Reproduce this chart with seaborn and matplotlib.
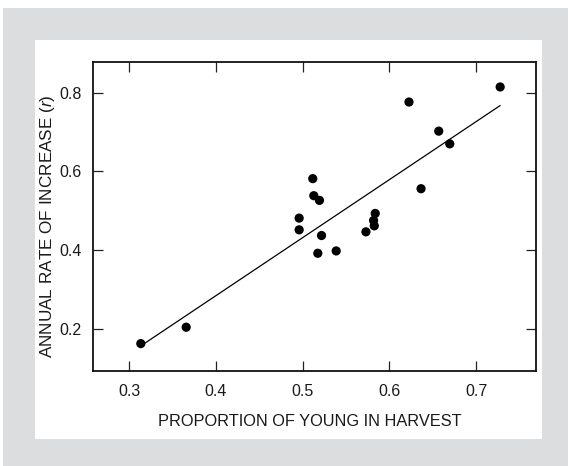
import matplotlib
matplotlib.use("Agg")
import matplotlib.pyplot as plt
from matplotlib.patches import Rectangle
import seaborn as sns
import pandas as pd

# Data
proportion_young = [0.3135, 0.3658, 0.4960, 0.4960, 0.5117, 0.5129, 0.5194, 0.5218,
                    0.5175, 0.5387, 0.5730, 0.5837, 0.5818, 0.5826, 0.6226, 0.6365,
                    0.6569, 0.6696, 0.7277]
annual_rate = [0.1617, 0.2034, 0.4809, 0.4511, 0.5813, 0.5379, 0.5260, 0.4366,
               0.3915, 0.3974, 0.4460, 0.4928, 0.4749, 0.4613, 0.7762, 0.5557,
               0.7021, 0.6698, 0.8145]
x_ticks = [0.3, 0.4, 0.5, 0.6, 0.7]
y_ticks = [0.2, 0.4, 0.6, 0.8]
x_label = "PROPORTION OF YOUNG IN HARVEST"
y_label = "ANNUAL RATE OF INCREASE ($\\it{r}$)"

df = pd.DataFrame({"x": proportion_young, "y": annual_rate})

sns.set_theme(style="ticks")
plt.rcParams["font.family"] = ["Liberation Sans", "DejaVu Sans"]
plt.rcParams["mathtext.fontset"] = "custom"
plt.rcParams["mathtext.it"] = "Liberation Sans:italic"
plt.rcParams["mathtext.rm"] = "Liberation Sans"

fig = plt.figure(figsize=(5.68, 4.66), dpi=100, facecolor="white")
W, H = 568, 466

def rect_px(x0, y0, x1, y1, color, z):
    fig.add_artist(Rectangle((x0 / W, 1 - y1 / H), (x1 - x0) / W, (y1 - y0) / H,
                             transform=fig.transFigure, facecolor=color,
                             edgecolor="none", zorder=z))

rect_px(3.5, 8, 568, 466, "#dcdddf", -10)
rect_px(35, 40, 542, 439, "white", -9)

ax = fig.add_axes([93 / W, 1 - 371 / H, (536 - 93) / W, (371 - 62) / H])
ax.set_facecolor("white")

sns.regplot(data=df, x="x", y="y", ax=ax, ci=None,
            scatter_kws=dict(s=44, color="black", edgecolor="none", alpha=1, zorder=3),
            line_kws=dict(color="black", lw=0.9))

ax.set_xlim(0.2584, 0.769)
ax.set_ylim(0.092, 0.878)
ax.set_xticks(x_ticks)
ax.set_yticks(y_ticks)
ax.set_xticklabels([f"{v:.1f}" for v in x_ticks])
ax.set_yticklabels([f"{v:.1f}" for v in y_ticks])
ax.tick_params(direction="in", length=7, width=0.9, color="#222222",
               top=True, right=True, labelsize=11.5, labelcolor="#1a1a1a")
ax.tick_params(axis="x", pad=9)
ax.tick_params(axis="y", pad=8)
for s in ax.spines.values():
    s.set_linewidth(1.3)
    s.set_color("#111111")
    s.set_visible(True)

ax.set_xlabel(x_label, fontsize=11.8, color="#1a1a1a")
ax.set_ylabel(y_label, fontsize=12.3, color="#1a1a1a")
ax.xaxis.set_label_coords(0.489, -0.140)
ax.yaxis.set_label_coords(-0.081, 0.47)

fig.savefig("out.png", dpi=100, facecolor="white")
